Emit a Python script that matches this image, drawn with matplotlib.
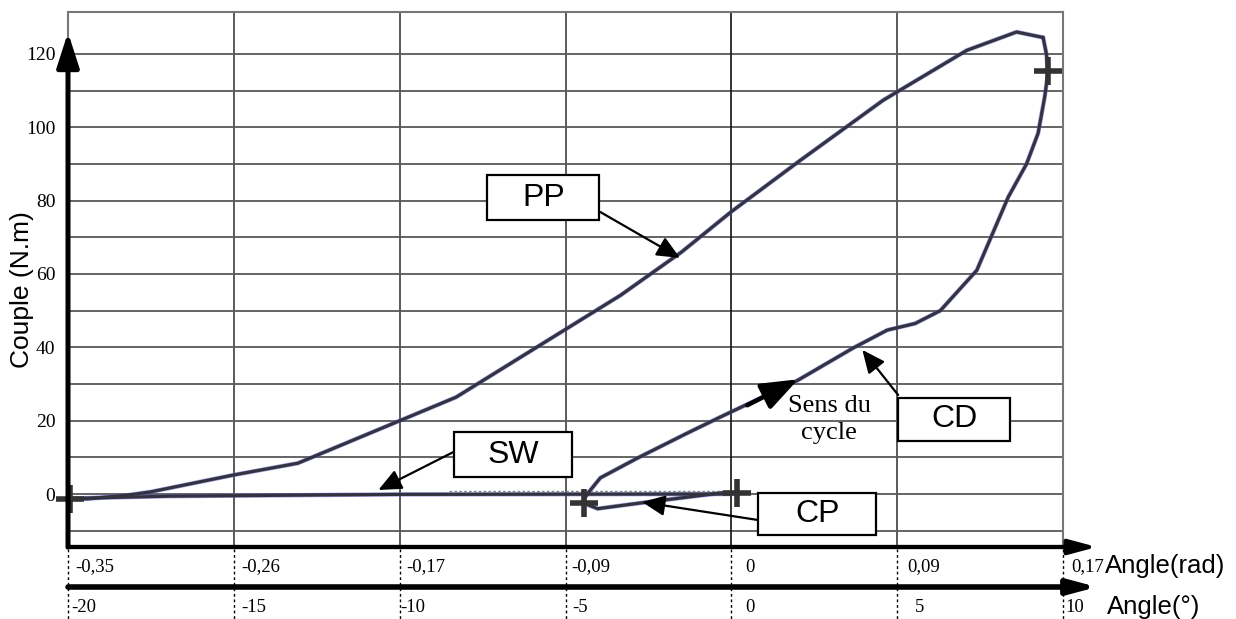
import matplotlib
matplotlib.use("Agg")
import matplotlib.pyplot as plt
from matplotlib.patches import Rectangle, FancyArrowPatch

# ---------------- data (angle in degrees, torque in N.m) ----------------
pp_x = [9.4, 8.6, 7.1, 4.58, 2.08, 0.0, -1.5, -3.34, -8.3, -13.07, -15.0, -17.5, -18.2, -19.4, -19.9]
pp_y = [124.5, 126.0, 121.0, 107.4, 91.0, 77.0, 66.0, 54.2, 26.4, 8.4, 5.2, 0.6, -0.3, -1.3, -1.4]

cd_x = [-4.45, -4.3, -3.95, -2.83, -1.33, -0.33, 2.0, 3.67, 4.7, 5.54, 6.3, 7.4, 8.35, 8.9, 9.25, 9.45, 9.55, 9.5, 9.4]
cd_y = [-1.5, 0.5, 4.4, 9.8, 16.6, 21.0, 31.0, 39.8, 44.7, 46.5, 50.0, 61.0, 81.0, 90.0, 98.4, 108.4, 115.0, 120.0, 124.5]

sw_x = [-19.9, -17.0, -10.0, 0.0]
sw_y = [-1.2, -0.6, -0.1, 0.0]

cp_x = [-4.45, -4.03, -2.7, -0.3, 0.2]
cp_y = [-2.5, -4.0, -2.4, 0.3, 0.3]

cross_x = [-19.95, -4.45, 0.18, 9.55]
cross_y = [-1.4, -2.5, 0.3, 115.3]

yticks = [0, 20, 40, 60, 80, 100, 120]
ytick_labels = ["0", "20", "40", "60", "80", "100", "120"]
xticks_deg = [-20, -15, -10, -5, 0, 5, 10]
xlabels_rad = ["-0,35", "-0,26", "-0,17", "-0,09", "0", "0,09", "0,17"]
xlabels_deg = ["-20", "-15", "-10", "-5", "0", "5", "10"]

SERIF = ["Liberation Serif", "DejaVu Serif"]
SANS = ["Liberation Sans", "DejaVu Sans"]

W, H = 1236, 619
fig = plt.figure(figsize=(W / 100, H / 100), dpi=100)
L, R, B, T = 68, 1063, 547, 12
ax = fig.add_axes([L / W, (H - B) / H, (R - L) / W, (B - T) / H])
ax.set_xlim(-20, 10)
ax.set_ylim(-14.45, 131.45)

# grid
for v in range(-10, 130, 10):
    ax.axhline(v, color="#3a3a3a", lw=1.1, zorder=1)
for v in [-15, -10, -5, 5]:
    ax.axvline(v, color="#5a5a5a", lw=1.4, zorder=1)
ax.axvline(0, color="#111111", lw=1.2, zorder=1)

for s in ["top", "right", "left"]:
    ax.spines[s].set_color("#777777")
    ax.spines[s].set_linewidth(1.5)
ax.spines["bottom"].set_color("black")
ax.spines["bottom"].set_linewidth(3.0)

ax.set_xticks([])
ax.set_yticks(yticks)
ax.set_yticklabels(ytick_labels, fontfamily=SERIF, fontsize=14)
ax.tick_params(axis="y", length=0, pad=9)

# left thick arrow axis
ax.annotate("", xy=(-20, 125.9), xytext=(-20, -14.45),
            arrowprops=dict(arrowstyle="-|>,head_length=1.4,head_width=0.45",
                            lw=3.6, color="black", mutation_scale=15,
                            shrinkA=0, shrinkB=0), zorder=6)

# curves
def curve(x, y):
    ax.plot(x, y, color="#5b5bd6", lw=3.2, alpha=0.55, zorder=3, solid_capstyle="round")
    ax.plot(x, y, color="#333340", lw=2.3, zorder=4, solid_capstyle="round")

curve(pp_x, pp_y)
curve(cd_x, cd_y)
curve(sw_x, sw_y)
curve(cp_x, cp_y)
ax.plot([-8.5, 0], [0.8, 0.8], color="#888888", lw=1, ls=(0, (2, 1.5)), zorder=3)

ax.plot(cross_x, cross_y, ls="none", marker="+", markersize=20, mew=4,
        color="#333333", zorder=5, clip_on=False)

# direction arrow
ax.annotate("", xy=(2.02, 31.3), xytext=(0.48, 24.2),
            arrowprops=dict(arrowstyle="-|>,head_length=1.6,head_width=0.6",
                            lw=3.2, color="black", mutation_scale=14,
                            shrinkA=0, shrinkB=0), zorder=6)
ax.text(2.95, 20.2, "Sens du\ncycle", fontfamily=SERIF, fontsize=19,
        ha="center", va="center", multialignment="center", linespacing=1.3, zorder=6)

# labelled boxes with arrows
boxes = [
    ("PP", -7.36, 74.7, -3.98, 87.0, (-3.95, 76.9), (-1.55, 64.4)),
    ("SW", -8.35, 4.6, -4.79, 16.9, (-8.38, 11.45), (-10.64, 1.1)),
    ("CD", 5.03, 14.45, 8.41, 26.2, (5.03, 27.0), (3.95, 39.3)),
    ("CP", 0.81, -11.2, 4.37, 0.27, (0.81, -7.1), (-2.69, -2.2)),
]
for lab, x0, y0, x1, y1, tail, tip in boxes:
    ax.add_patch(Rectangle((x0, y0), x1 - x0, y1 - y0, facecolor="white",
                           edgecolor="black", lw=1.6, zorder=7))
    ax.text((x0 + x1) / 2, (y0 + y1) / 2, lab, fontfamily=SANS, fontsize=23,
            ha="center", va="center", zorder=8)
    ax.annotate("", xy=tip, xytext=tail,
                arrowprops=dict(arrowstyle="-|>,head_length=1.0,head_width=0.45",
                                lw=1.6, color="black", mutation_scale=14,
                                shrinkA=0, shrinkB=0), zorder=6)

# bottom axes (figure pixel space)
def fx(px):
    return px / W

def fy(py):
    return 1 - py / H

def xpix(deg):
    return L + (deg + 20) * (R - L) / 30

for py in (547, 587):
    fig.add_artist(FancyArrowPatch(
        (fx(L), fy(py)), (fx(1097), fy(py)), transform=fig.transFigure,
        arrowstyle="-|>,head_length=1.2,head_width=0.32", mutation_scale=14,
        lw=3.0 if py == 547 else 4.0, color="black", shrinkA=0, shrinkB=0))

rad_off = [7, 7, 7, 6, 14, 10, 8]
deg_off = [3, 7, 1, 7, 14, 18, 2]
for d, lr, ld, o1, o2 in zip(xticks_deg, xlabels_rad, xlabels_deg, rad_off, deg_off):
    xp = xpix(d)
    fig.add_artist(plt.Line2D([fx(xp), fx(xp)], [fy(549), fy(619)],
                              transform=fig.transFigure, color="black",
                              lw=1.0, ls=(0, (2, 2))))
    fig.text(fx(xp + o1), fy(567), lr, fontfamily=SERIF, fontsize=13.5,
             ha="left", va="center")
    fig.text(fx(xp + o2), fy(607), ld, fontfamily=SERIF, fontsize=13.5,
             ha="left", va="center")

fig.text(fx(1105), fy(566), "Angle(rad)", fontfamily=SANS, fontsize=18.5,
         ha="left", va="center")
fig.text(fx(1107), fy(607), "Angle(°)", fontfamily=SANS, fontsize=18.5,
         ha="left", va="center")
fig.text(fx(22), fy(290), "Couple (N.m)", fontfamily=SANS, fontsize=19,
         ha="center", va="center", rotation=90)

fig.savefig("out.png", dpi=100)
